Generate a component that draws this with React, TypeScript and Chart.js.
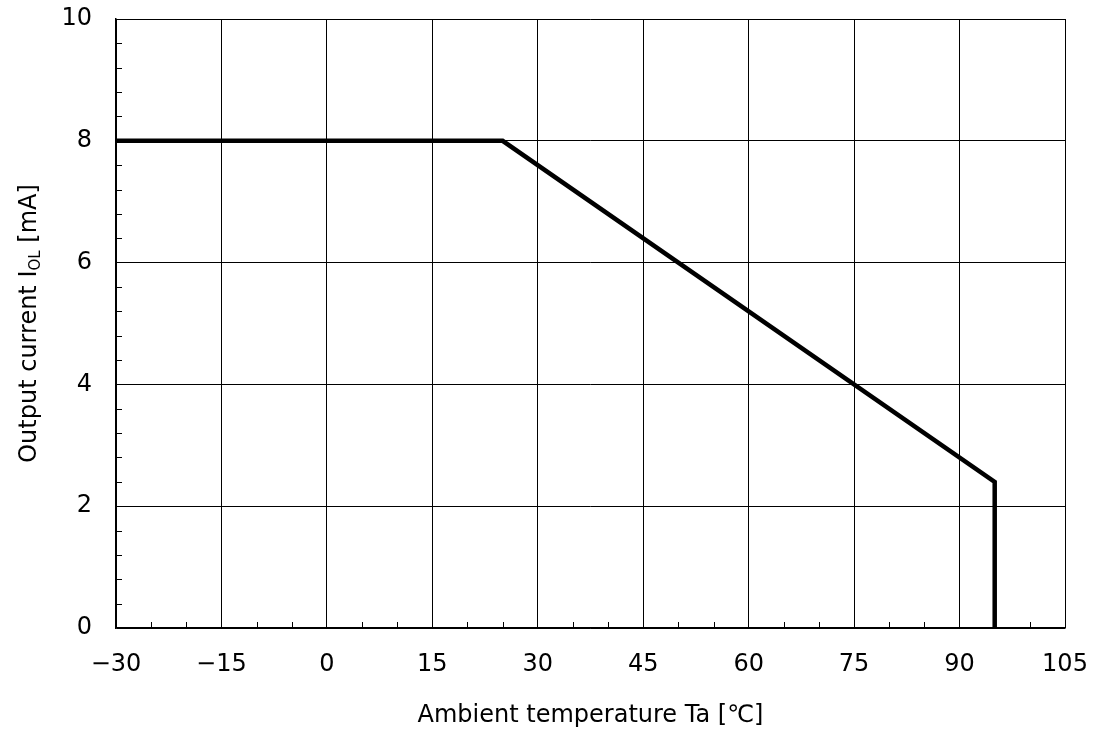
import React, { useEffect, useRef } from "react";
import { Chart, registerables } from "chart.js";

Chart.register(...registerables);

const tempValues = [-30, 25, 95, 95];
const currentValues = [8, 8, 2.4, 0];
const xTickRange = { min: -30, max: 105, step: 15, minorStep: 5 };
const yTickRange = { min: 0, max: 10, step: 2, minorStep: 0.4 };
const xTitle = "Ambient temperature Ta [℃]";
const yTitleMain = "Output current I";
const yTitleSub = "OL";
const yTitleEnd = " [mA]";

const FONT = "'DejaVu Sans', sans-serif";
const FS = 24;

export default function App() {
  const ref = useRef<HTMLCanvasElement | null>(null);
  useEffect(() => {
    document.body.style.margin = "0";
    const canvas = ref.current!;
    const decor = {
      id: "decor",
      afterDraw(chart: any) {
        const { ctx, chartArea } = chart;
        const xs = chart.scales.x;
        const ys = chart.scales.y;
        ctx.save();
        ctx.strokeStyle = "#000";
        ctx.lineWidth = 1;
        const minorLen = 6;
        for (let i = 0; ; i++) {
          const v = xTickRange.min + i * xTickRange.minorStep;
          if (v > xTickRange.max + 1e-9) break;
          if ((v - xTickRange.min) % xTickRange.step === 0) continue;
          const px = Math.round(xs.getPixelForValue(v)) + 0.5;
          ctx.beginPath();
          ctx.moveTo(px, chartArea.bottom);
          ctx.lineTo(px, chartArea.bottom - minorLen);
          ctx.stroke();
        }
        for (let i = 0; ; i++) {
          const v = yTickRange.min + i * yTickRange.minorStep;
          if (v > yTickRange.max + 1e-9) break;
          const r = (v / yTickRange.step) % 1;
          if (Math.abs(r) < 1e-6 || Math.abs(r - 1) < 1e-6) continue;
          const py = Math.round(ys.getPixelForValue(v)) + 0.5;
          ctx.beginPath();
          ctx.moveTo(chartArea.left, py);
          ctx.lineTo(chartArea.left + minorLen, py);
          ctx.stroke();
        }
        // titles
        ctx.fillStyle = "#000";
        ctx.font = `${FS}px ${FONT}`;
        ctx.textAlign = "center";
        ctx.textBaseline = "middle";
        ctx.fillText(xTitle, (chartArea.left + chartArea.right) / 2, 716);

        const subFS = 15;
        ctx.font = `${FS}px ${FONT}`;
        const w1 = ctx.measureText(yTitleMain).width;
        const w3 = ctx.measureText(yTitleEnd).width;
        ctx.font = `${subFS}px ${FONT}`;
        const w2 = ctx.measureText(yTitleSub).width;
        const total = w1 + w2 + w3;
        ctx.translate(27, (chartArea.top + chartArea.bottom) / 2);
        ctx.rotate(-Math.PI / 2);
        ctx.textAlign = "left";
        ctx.textBaseline = "alphabetic";
        let x0 = -total / 2;
        const base = 9;
        ctx.font = `${FS}px ${FONT}`;
        ctx.fillText(yTitleMain, x0, base);
        x0 += w1;
        ctx.font = `${subFS}px ${FONT}`;
        ctx.fillText(yTitleSub, x0, base + 4);
        x0 += w2;
        ctx.font = `${FS}px ${FONT}`;
        ctx.fillText(yTitleEnd, x0, base);
        ctx.restore();
      },
    };
    const fmt = (v: any) => String(v).replace("-", "−");
    const chart = new Chart(canvas, {
      type: "line",
      data: {
        datasets: [
          {
            data: tempValues.map((t, i) => ({ x: t, y: currentValues[i] })),
            borderColor: "#000",
            borderWidth: 4.5,
            borderJoinStyle: "miter",
            pointRadius: 0,
            tension: 0,
            fill: false,
          },
        ],
      },
      options: {
        animation: false,
        responsive: false,
        devicePixelRatio: 1,
        layout: { padding: { left: 0, top: 19, right: 31, bottom: 0 } },
        plugins: { legend: { display: false }, tooltip: { enabled: false } },
        scales: {
          x: {
            type: "linear",
            min: xTickRange.min,
            max: xTickRange.max,
            ticks: {
              stepSize: xTickRange.step,
              color: "#000",
              font: { family: FONT, size: FS },
              padding: 22,
              maxRotation: 0,
              callback: (v: any) => fmt(v),
            },
            grid: { color: "#000", lineWidth: 1, drawTicks: false },
            border: { color: "#000", width: 1.5 },
            afterFit: (s: any) => {
              s.height = 735 - 628;
              s.paddingLeft = 0;
              s.paddingRight = 0;
            },
          },
          y: {
            type: "linear",
            min: yTickRange.min,
            max: yTickRange.max,
            ticks: {
              stepSize: yTickRange.step,
              color: "#000",
              font: { family: FONT, size: FS },
              padding: 24,
              callback: (v: any) => fmt(v),
            },
            grid: { color: "#000", lineWidth: 1, drawTicks: false },
            border: { color: "#000", width: 1.5 },
            afterFit: (s: any) => {
              s.width = 116;
              s.paddingTop = 0;
              s.paddingBottom = 0;
            },
          },
        },
      },
      plugins: [decor],
    } as any);
    return () => chart.destroy();
  }, []);
  return (
    <div style={{ position: "absolute", left: 0, top: 0, width: 1096, height: 735, background: "#fff" }}>
      <canvas ref={ref} width={1096} height={735} style={{ width: 1096, height: 735 }} />
    </div>
  );
}
